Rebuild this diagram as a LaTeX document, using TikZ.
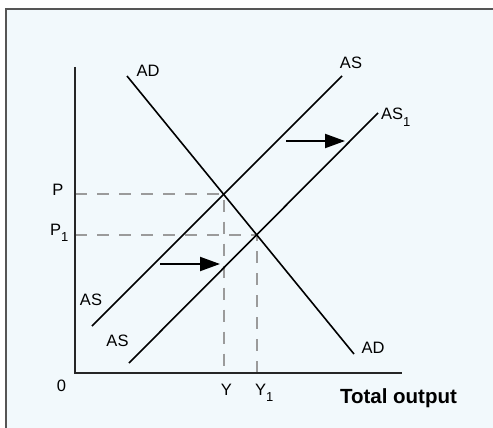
\documentclass[tikz,border=0pt]{standalone}
\usepackage{fontspec}
\setmainfont{Liberation Sans}
\usetikzlibrary{arrows.meta}
\definecolor{panelblue}{RGB}{242,249,252}
\definecolor{framegray}{RGB}{85,85,85}
\definecolor{guidegray}{RGB}{155,155,155}
\newcommand{\lowsub}[1]{\raisebox{-6pt}{\fontsize{13}{15}\selectfont #1}}
\tikzset{
  curve line/.style={black, line width=1.6pt},
  axis line/.style={black!85, line width=2pt},
  guide line/.style={guidegray, line width=1.8pt, dash pattern=on 12pt off 10pt},
  shift arrow/.style={-{Triangle[length=20pt,width=14pt]}, line width=2pt, black},
  curve label/.style={anchor=base, inner sep=0pt, font=\fontsize{16.5}{19}\selectfont}
}

\begin{document}
\begin{tikzpicture}[x=1pt, y=-1pt]
    \useasboundingbox (0,0) rectangle (493,428);
    \fill[panelblue] (6,9) rectangle (493,428);
    \draw[framegray, line width=1.5pt] (6,428) -- (6,9) -- (493,9);
    \coordinate (origin) at (75,373);
    \coordinate (ytop) at (75,67);
    \coordinate (xend) at (402,373);
    \coordinate (adtop) at (127,76);
    \coordinate (adbot) at (354,354);
    \coordinate (asbot) at (92,326);
    \coordinate (astop) at (342,76);
    \coordinate (asonebot) at (129,363);
    \coordinate (asonetop) at (378,113);
    \coordinate (eq) at (intersection of adtop--adbot and asbot--astop);
    \coordinate (eqone) at (intersection of adtop--adbot and asonebot--asonetop);
    \draw[guide line] (origin |- eq) -- (eq) -- (eq |- origin);
    \draw[guide line] (origin |- eqone) -- (eqone) -- (eqone |- origin);
    \draw[curve line] (adtop) -- (adbot);
    \draw[curve line] (asbot) -- (astop);
    \draw[curve line] (asonebot) -- (asonetop);
    \draw[axis line] (ytop) -- (origin) -- (xend);
    \coordinate (upperstart) at (286,141);
    \coordinate (upperend) at (345,141);
    \coordinate (lowerstart) at (160,264);
    \coordinate (lowerend) at (220,264);
    \draw[shift arrow] (upperstart) -- (upperend);
    \draw[shift arrow] (lowerstart) -- (lowerend);
    \node[curve label] (adtoplabel) at (148,77) {AD};
    \node[curve label] (adbotlabel) at (373,353) {AD};
    \node[curve label] (astoplabel) at (351,69) {AS};
    \node[curve label, anchor=base west] (asonelabel) at (381,120) {AS\lowsub{1}};
    \node[curve label] (asleftlabel) at (91,305) {AS};
    \node[curve label] (aslowlabel) at (117.5,346) {AS};
    \node[curve label] (plabel) at (58,195) {P};
    \node[curve label, anchor=base west] (ponelabel) at (50,235) {P\lowsub{1}};
    \node[curve label] (zerolabel) at (61.5,391) {0};
    \node[curve label] (ylabel) at (226.5,395) {Y};
    \node[curve label, anchor=base west] (yonelabel) at (255,395) {Y\lowsub{1}};
    \node[anchor=base, inner sep=0pt, font=\fontsize{20.5}{24}\selectfont\bfseries] (outputlabel) at (398.5,403) {Total output};
\end{tikzpicture}
\end{document}
